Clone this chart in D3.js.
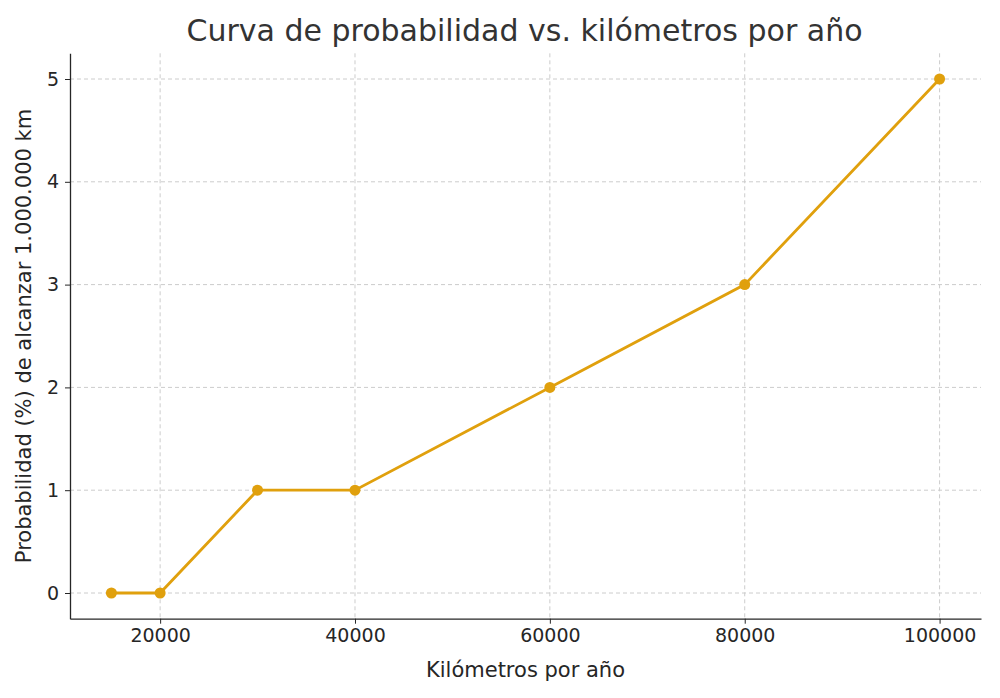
<!DOCTYPE html>
<html><head><meta charset="utf-8">
<script src="https://cdn.jsdelivr.net/npm/d3@7"></script>
<style>body{margin:0;background:#fff}svg text{font-family:"DejaVu Sans",sans-serif}</style>
</head><body><svg id="c" width="1000" height="698"></svg>
<script>
const kmPerYear = [15000, 20000, 30000, 40000, 60000, 80000, 100000];
const probability = [0, 0, 1, 1, 2, 3, 5];
const xTicks = [20000, 40000, 60000, 80000, 100000];
const yTicks = [0, 1, 2, 3, 4, 5];

const svg = d3.select("#c");
const m = {l:70, r:981, t:53.3, b:618.7};
const x = d3.scaleLinear().domain([10750, 104250]).range([m.l, m.r]);
const y = d3.scaleLinear().domain([-0.25, 5.25]).range([m.b, m.t]);
const ink = "#262626";

svg.append("g").selectAll("line").data(xTicks).join("line")
  .attr("x1", d=>x(d)).attr("x2", d=>x(d)).attr("y1", m.t).attr("y2", m.b)
  .attr("stroke", "#ccc").attr("stroke-dasharray", "4,3");
svg.append("g").selectAll("line").data(yTicks).join("line")
  .attr("y1", d=>y(d)).attr("y2", d=>y(d)).attr("x1", m.l).attr("x2", m.r)
  .attr("stroke", "#ccc").attr("stroke-dasharray", "4,3");

const xa = svg.append("g").attr("transform", `translate(0,${m.b})`)
  .call(d3.axisBottom(x).tickValues(xTicks).tickFormat(d3.format("d")).tickSize(5).tickSizeOuter(0).tickPadding(5));
const ya = svg.append("g").attr("transform", `translate(${m.l},0)`)
  .call(d3.axisLeft(y).tickValues(yTicks).tickFormat(d3.format("d")).tickSize(5).tickSizeOuter(0).tickPadding(6));
[xa, ya].forEach(a => {
  a.attr("font-size", null).attr("font-family", null);
  a.selectAll("text").style("font-size", "19px").attr("fill", ink);
  a.selectAll("line").attr("stroke", ink);
  a.select(".domain").attr("stroke", ink).attr("stroke-width", 1.3);
});

const pts = kmPerYear.map((k,i)=>[k, probability[i]]);
svg.append("path").datum(pts)
  .attr("d", d3.line().x(d=>x(d[0])).y(d=>y(d[1])))
  .attr("fill", "none").attr("stroke", "#e0a00d").attr("stroke-width", 2.8);
svg.append("g").selectAll("circle").data(pts).join("circle")
  .attr("cx", d=>x(d[0])).attr("cy", d=>y(d[1])).attr("r", 5.5).attr("fill", "#e0a00d");

svg.append("text").attr("x", (m.l+m.r)/2 - 1).attr("y", 41).attr("text-anchor", "middle")
  .style("font-size", "30px").attr("fill", "#333").text("Curva de probabilidad vs. kilómetros por año");
svg.append("text").attr("x", (m.l+m.r)/2).attr("y", 677).attr("text-anchor", "middle")
  .style("font-size", "21px").attr("fill", ink).text("Kilómetros por año");
svg.append("text").attr("transform", `translate(31,${(m.t+m.b)/2}) rotate(-90)`).attr("text-anchor", "middle")
  .style("font-size", "21px").attr("fill", ink).text("Probabilidad (%) de alcanzar 1.000.000 km");
</script></body></html>
